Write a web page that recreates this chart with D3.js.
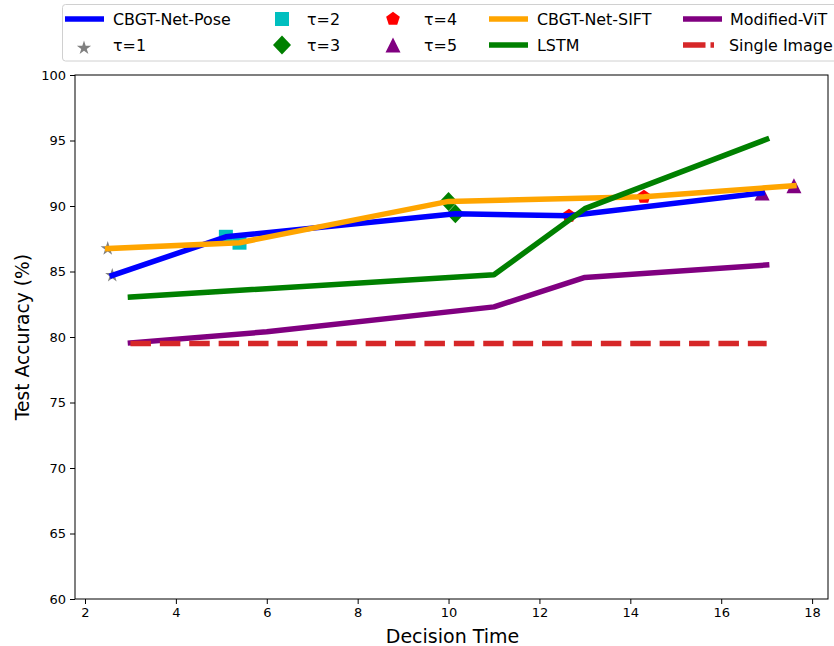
<!DOCTYPE html>
<html><head><meta charset="utf-8">
<script src="https://cdn.jsdelivr.net/npm/d3@7"></script>
<style>body{margin:0;background:#fff}svg{display:block;font-family:"DejaVu Sans",sans-serif}</style>
</head><body><svg id="c" width="834" height="646"></svg>
<script>
// ---- data ----
const xPose = [2.6, 5.1, 10.15, 12.65, 16.9];
const pose  = [84.7, 87.65, 89.4, 89.25, 91.0];
const xSift = [2.5, 5.4, 10.0, 14.3, 17.6];
const sift  = [86.75, 87.2, 90.35, 90.7, 91.55];
const xLstm = [3, 11, 13, 17];
const lstm  = [83.05, 84.75, 89.8, 95.1];
const xVit  = [3, 6, 11, 13, 17];
const vit   = [79.55, 80.4, 82.3, 84.55, 85.5];
const xSingle = [3, 17];
const single  = [79.5, 79.5];
const tauLabels = ["τ=1", "τ=2", "τ=3", "τ=4", "τ=5"];
const xTicks = [2, 4, 6, 8, 10, 12, 14, 16, 18];
const yTicks = [60, 65, 70, 75, 80, 85, 90, 95, 100];

const svg = d3.select("#c");
const L = 75, R = 828, T = 75, B = 599;
const x = d3.scaleLinear().domain([1.78, 18.35]).range([L, R]);
const y = d3.scaleLinear().domain([60, 100]).range([B, T]);

// marker shapes
function star(r){const ri=r*0.382;let p=[];for(let i=0;i<10;i++){const a=-Math.PI/2+i*Math.PI/5;const rr=i%2?ri:r;p.push([rr*Math.cos(a),rr*Math.sin(a)]);}return "M"+p.join("L")+"Z";}
function square(s){const h=s/2;return `M${-h},${-h}L${h},${-h}L${h},${h}L${-h},${h}Z`;}
function diamond(r){return `M0,${-r}L${r*0.95},0L0,${r}L${-r*0.95},0Z`;}
function pentagon(r){let p=[];for(let i=0;i<5;i++){const a=-Math.PI/2+i*2*Math.PI/5;p.push([r*Math.cos(a),r*Math.sin(a)]);}return "M"+p.join("L")+"Z";}
function triangle(h){return `M0,${-h}L${h},${h}L${-h},${h}Z`;}
const markers = [
  {path: star(7.5), color: "#808080"},
  {path: square(14), color: "#00bfbf"},
  {path: diamond(9.5), color: "#008000"},
  {path: pentagon(7.2), color: "#ff0000"},
  {path: triangle(7.5), color: "#800080"}
];

// axes
const gx = svg.append("g").attr("transform", `translate(0,${B})`)
  .call(d3.axisBottom(x).tickValues(xTicks).tickFormat(d3.format("d")).tickSize(5).tickPadding(4));
const gy = svg.append("g").attr("transform", `translate(${L},0)`)
  .call(d3.axisLeft(y).tickValues(yTicks).tickFormat(d3.format("d")).tickSize(5).tickPadding(4));
[gx, gy].forEach(g => {
  g.select(".domain").remove();
  g.selectAll("text").attr("font-size", 13).attr("fill", "#000").attr("font-family", "DejaVu Sans, sans-serif");
  g.selectAll("line").attr("stroke", "#000").attr("stroke-width", 1);
});

// markers (drawn beneath lines)
const mk = svg.append("g");
markers.forEach((m, i) => {
  [[xPose[i], pose[i]], [xSift[i], sift[i]]].forEach(([a, b]) => {
    mk.append("path").attr("d", m.path).attr("fill", m.color)
      .attr("transform", `translate(${x(a)},${y(b)})`);
  });
});

// lines
const line = d3.line().x(d => x(d[0])).y(d => y(d[1]));
const series = [
  {xs: xPose, ys: pose, color: "#0000ff"},
  {xs: xSift, ys: sift, color: "#ffa500"},
  {xs: xLstm, ys: lstm, color: "#008000"},
  {xs: xVit, ys: vit, color: "#800080"},
  {xs: xSingle, ys: single, color: "#d62728", dash: "20.5,8.9"}
];
series.forEach(s => {
  svg.append("path").datum(d3.zip(s.xs, s.ys)).attr("d", line)
    .attr("fill", "none").attr("stroke", s.color).attr("stroke-width", 5.5)
    .attr("stroke-linejoin", "round")
    .attr("stroke-linecap", s.dash ? "butt" : "square")
    .attr("stroke-dasharray", s.dash || null);
});

// frame
svg.append("rect").attr("x", L).attr("y", T).attr("width", R - L).attr("height", B - T)
  .attr("fill", "none").attr("stroke", "#000").attr("stroke-width", 1);

// axis labels
svg.append("text").attr("x", (L + R) / 2 + 1).attr("y", 636).attr("text-anchor", "middle")
  .attr("dominant-baseline", "central").attr("font-size", 19).text("Decision Time");
svg.append("text").attr("transform", `translate(22,${(T + B) / 2}) rotate(-90)`)
  .attr("text-anchor", "middle").attr("dominant-baseline", "central").attr("font-size", 18.7)
  .text("Test Accuracy (%)");

// legend
const lg = svg.append("g");
lg.append("rect").attr("x", 62.5).attr("y", 4.5).attr("width", 790).attr("height", 56.5)
  .attr("rx", 3).attr("fill", "#fff").attr("fill-opacity", 0.8).attr("stroke", "#d0d0d0");
const rows = [19, 45];
const lineItems = [
  {label: "CBGT-Net-Pose", color: "#0000ff", hx: 65, tx: 113, row: 0},
  {label: "CBGT-Net-SIFT", color: "#ffa500", hx: 489, tx: 537, row: 0},
  {label: "LSTM", color: "#008000", hx: 489, tx: 537, row: 1},
  {label: "Modified-ViT", color: "#800080", hx: 683, tx: 730, row: 0},
  {label: "Single Image", color: "#d62728", hx: 683, tx: 729, row: 1, dash: "22.5,5", len: 31}
];
lineItems.forEach(it => {
  lg.append("line").attr("x1", it.hx).attr("x2", it.hx + (it.len || 39)).attr("y1", rows[it.row]).attr("y2", rows[it.row])
    .attr("stroke", it.color).attr("stroke-width", 5.5).attr("stroke-dasharray", it.dash || null);
  lg.append("text").attr("x", it.tx).attr("y", rows[it.row]).attr("dominant-baseline", "central")
    .attr("font-size", 15.9).text(it.label);
});
const markerItems = [
  {i: 0, mx: 84, tx: 113, row: 1},
  {i: 1, mx: 282, tx: 307, row: 0},
  {i: 2, mx: 282, tx: 307, row: 1},
  {i: 3, mx: 393, tx: 424, row: 0},
  {i: 4, mx: 393, tx: 424, row: 1}
];
markerItems.forEach(it => {
  lg.append("path").attr("d", markers[it.i].path).attr("fill", markers[it.i].color)
    .attr("transform", `translate(${it.mx},${rows[it.row] + (it.i === 0 ? 3 : 0)})`);
  lg.append("text").attr("x", it.tx).attr("y", rows[it.row]).attr("dominant-baseline", "central")
    .attr("font-size", 15.9).text(tauLabels[it.i]);
});
</script></body></html>
